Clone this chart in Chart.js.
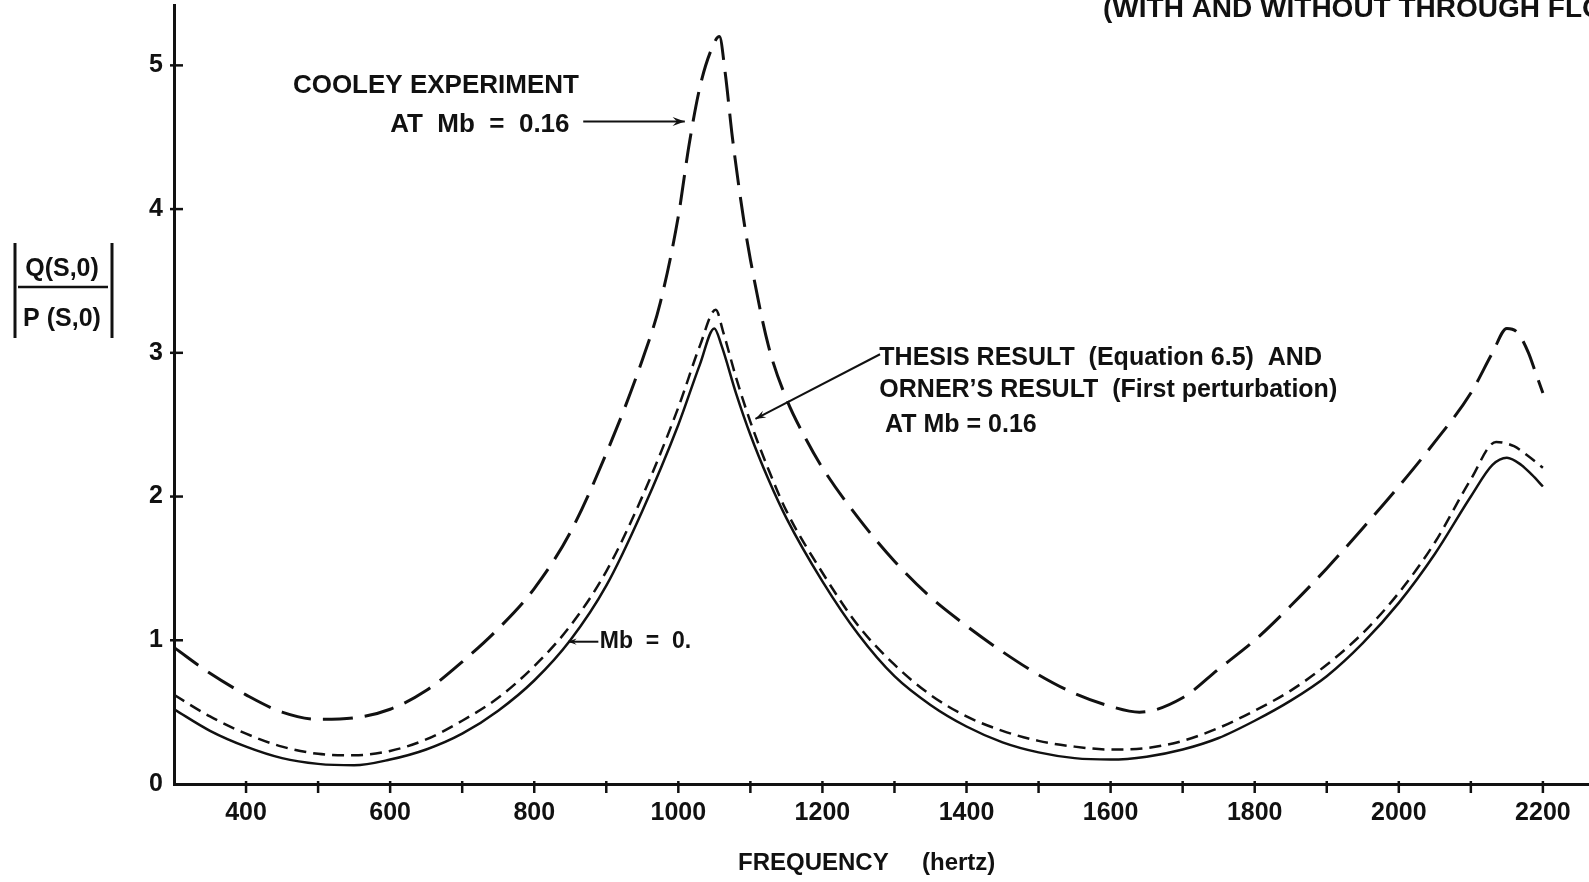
<!DOCTYPE html>
<html>
<head>
<meta charset="utf-8">
<script src="https://cdn.jsdelivr.net/npm/chart.js@4.4.0/dist/chart.umd.min.js"></script>
<style>
    html, body { margin: 0; padding: 0; background: #fff; }
    #wrap { width: 1589px; height: 882px; position: relative; }
</style>
</head>
<body>
<div id="wrap"><canvas id="chart"></canvas></div>
<script>
// |Q(S,0)/P(S,0)| against frequency, with and without through flow

const cooleyFreq = [300, 350, 400, 450, 500, 550, 600, 650, 700, 750, 800, 850, 900, 950, 975, 1000, 1015, 1030, 1045, 1057,
                    1065, 1075, 1090, 1100, 1125, 1150, 1175, 1200, 1250, 1300, 1350, 1400, 1450, 1500, 1550, 1600, 1640,
                    1700, 1750, 1800, 1850, 1900, 1950, 2000, 2050, 2100, 2130, 2150, 2165, 2180, 2190, 2200];
const cooleyVal  = [0.95, 0.77, 0.62, 0.50, 0.45, 0.46, 0.52, 0.65, 0.85, 1.08, 1.36, 1.75, 2.30, 2.95, 3.35, 3.95, 4.45, 4.85, 5.10, 5.20,
                    4.95, 4.50, 3.95, 3.65, 3.05, 2.68, 2.42, 2.20, 1.85, 1.55, 1.30, 1.10, 0.92, 0.76, 0.63, 0.54, 0.50,
                    0.60, 0.80, 1.00, 1.24, 1.50, 1.78, 2.07, 2.38, 2.72, 3.00, 3.17, 3.14, 3.00, 2.86, 2.72];

const thesisFreq = [300, 350, 400, 450, 500, 550, 600, 650, 700, 750, 800, 850, 900, 950, 1000, 1030, 1052, 1062, 1080, 1100,
                    1125, 1150, 1200, 1250, 1300, 1350, 1400, 1450, 1500, 1550, 1600, 1650, 1700, 1750, 1800, 1850, 1900,
                    1950, 2000, 2050, 2100, 2135, 2160, 2180, 2200];
const thesisVal  = [0.62, 0.47, 0.35, 0.26, 0.21, 0.20, 0.23, 0.31, 0.44, 0.60, 0.82, 1.10, 1.48, 2.00, 2.62, 3.05, 3.30, 3.15, 2.83, 2.52,
                    2.19, 1.90, 1.47, 1.10, 0.83, 0.62, 0.47, 0.37, 0.30, 0.26, 0.24, 0.25, 0.30, 0.39, 0.51, 0.65, 0.83,
                    1.05, 1.33, 1.68, 2.12, 2.38, 2.35, 2.28, 2.20];

const mb0Freq = [300, 350, 400, 450, 500, 550, 600, 650, 700, 750, 800, 850, 900, 950, 1000, 1030, 1050, 1060, 1080, 1100,
                 1125, 1150, 1200, 1250, 1300, 1350, 1400, 1450, 1500, 1550, 1600, 1650, 1700, 1750, 1800, 1850, 1900,
                 1950, 2000, 2050, 2100, 2130, 2150, 2170, 2185, 2200];
const mb0Val  = [0.52, 0.37, 0.26, 0.18, 0.14, 0.13, 0.17, 0.24, 0.35, 0.51, 0.72, 1.00, 1.38, 1.90, 2.50, 2.92, 3.17, 3.05, 2.72, 2.43,
                 2.12, 1.85, 1.41, 1.04, 0.75, 0.55, 0.40, 0.29, 0.22, 0.18, 0.17, 0.19, 0.24, 0.32, 0.44, 0.58, 0.75,
                 0.98, 1.26, 1.60, 2.00, 2.22, 2.27, 2.22, 2.15, 2.07];

const xTickStep = 100;
const yTickStep = 1;

// annotations, anchored in data units (freq, value)
const notes = [
    { text: "COOLEY EXPERIMENT",                       f: 465,  v: 4.805, size: 26 },
    { text: "AT  Mb  =  0.16",                         f: 600,  v: 4.534, size: 26 },
    { text: "THESIS RESULT  (Equation 6.5)  AND",      f: 1279, v: 2.914, size: 25 },
    { text: "ORNER\u2019S RESULT  (First perturbation)", f: 1279, v: 2.690, size: 25 },
    { text: "AT Mb = 0.16",                            f: 1287, v: 2.448, size: 25 },
    { text: "Mb  =  0.",                               f: 891,  v: 0.946, size: 23 },
];
const arrows = [
    { from: [868, 4.61],  to: [1009, 4.61], head: 13 },
    { from: [1280, 2.99], to: [1107, 2.54], head: 11 },
    { from: [889, 0.99],  to: [847, 0.99],  head: 9 },
];

const INK  = "#111";
const FONT = '"Liberation Sans", Arial, sans-serif';

const pts = (fs, vs) => fs.map((f, i) => ({ x: f, y: vs[i] }));

const decor = {
    id: "decor",
    afterDraw(chart) {
        const { ctx, scales: { x, y } } = chart;
        const seg = (x1, y1, x2, y2) => { ctx.beginPath(); ctx.moveTo(x1, y1); ctx.lineTo(x2, y2); ctx.stroke(); };
        ctx.save();
        ctx.strokeStyle = INK;
        ctx.fillStyle = INK;
        ctx.lineCap = "butt";

        // tick marks that cross the axes
        ctx.lineWidth = 2.5;
        x.ticks.forEach(t => {
            if (t.value <= x.min) return;
            const px = x.getPixelForValue(t.value);
            seg(px, y.bottom - 3, px, y.bottom + 9);
        });
        y.ticks.forEach(t => {
            if (t.value <= y.min) return;
            const py = y.getPixelForValue(t.value);
            seg(x.left - 4, py, x.left + 9, py);
        });

        // notes
        ctx.textAlign = "left";
        ctx.textBaseline = "alphabetic";
        notes.forEach(n => {
            ctx.font = `bold ${n.size}px ${FONT}`;
            ctx.fillText(n.text, x.getPixelForValue(n.f), y.getPixelForValue(n.v));
        });

        // arrows
        ctx.lineWidth = 2;
        arrows.forEach(a => {
            const x1 = x.getPixelForValue(a.from[0]), y1 = y.getPixelForValue(a.from[1]);
            const x2 = x.getPixelForValue(a.to[0]),   y2 = y.getPixelForValue(a.to[1]);
            seg(x1, y1, x2, y2);
            const ang = Math.atan2(y2 - y1, x2 - x1);
            ctx.beginPath();
            ctx.moveTo(x2, y2);
            ctx.lineTo(x2 - a.head * Math.cos(ang - 0.35), y2 - a.head * Math.sin(ang - 0.35));
            ctx.lineTo(x2 - a.head * 0.6 * Math.cos(ang), y2 - a.head * 0.6 * Math.sin(ang));
            ctx.lineTo(x2 - a.head * Math.cos(ang + 0.35), y2 - a.head * Math.sin(ang + 0.35));
            ctx.closePath();
            ctx.fill();
        });

        // y axis title: |Q(S,0) / P(S,0)|
        ctx.lineWidth = 3;
        seg(15, 243, 15, 338);
        seg(112, 243, 112, 338);
        ctx.lineWidth = 2.5;
        seg(18, 287, 108, 287);
        ctx.font = `bold 25px ${FONT}`;
        ctx.textAlign = "center";
        ctx.fillText("Q(S,0)", 62, 276);
        ctx.fillText("P (S,0)", 62, 326);

        // x axis title
        ctx.textAlign = "left";
        ctx.font = `bold 24px ${FONT}`;
        ctx.fillText("FREQUENCY", 738, 870);
        ctx.fillText("(hertz)", 922, 870);

        // figure heading, cut at the top edge
        ctx.font = `bold 28px ${FONT}`;
        ctx.fillText("(WITH AND WITHOUT THROUGH FLOW)", 1103, 17);

        ctx.restore();
    }
};

new Chart(document.getElementById("chart"), {
    type: "line",
    data: {
        datasets: [
            { label: "Cooley experiment, Mb = 0.16", data: pts(cooleyFreq, cooleyVal),
              borderColor: INK, borderWidth: 3, borderDash: [30, 12] },
            { label: "Thesis / Orner result, Mb = 0.16", data: pts(thesisFreq, thesisVal),
              borderColor: INK, borderWidth: 2.5, borderDash: [12, 7] },
            { label: "Mb = 0", data: pts(mb0Freq, mb0Val),
              borderColor: INK, borderWidth: 2.5 },
        ]
    },
    options: {
        responsive: true, maintainAspectRatio: false, animation: false,
        layout: { padding: { top: 5, left: 0, right: 0, bottom: 0 } },
        elements: { point: { radius: 0 }, line: { cubicInterpolationMode: "monotone", fill: false } },
        plugins: { legend: { display: false }, tooltip: { enabled: false } },
        scales: {
            x: {
                type: "linear", min: 300, max: 2264,
                afterFit: s => { s.height = 98; s.paddingLeft = 0; s.paddingRight = 0; },
                grid: { display: false, drawTicks: false },
                border: { display: true, color: INK, width: 3 },
                ticks: {
                    stepSize: xTickStep, includeBounds: false, autoSkip: false, maxRotation: 0,
                    padding: 14, color: INK, font: { family: FONT, size: 25, weight: "bold" },
                    callback: v => (v % 200 === 0 ? v : "")
                }
            },
            y: {
                type: "linear", min: 0, max: 5.42,
                afterFit: s => { s.width = 174; s.paddingTop = 0; s.paddingBottom = 0; },
                grid: { display: false, drawTicks: false },
                border: { display: true, color: INK, width: 3 },
                ticks: {
                    stepSize: yTickStep, includeBounds: false, padding: 11,
                    color: INK, font: { family: FONT, size: 25, weight: "bold" }
                }
            }
        }
    },
    plugins: [decor]
});
</script>
</body>
</html>
